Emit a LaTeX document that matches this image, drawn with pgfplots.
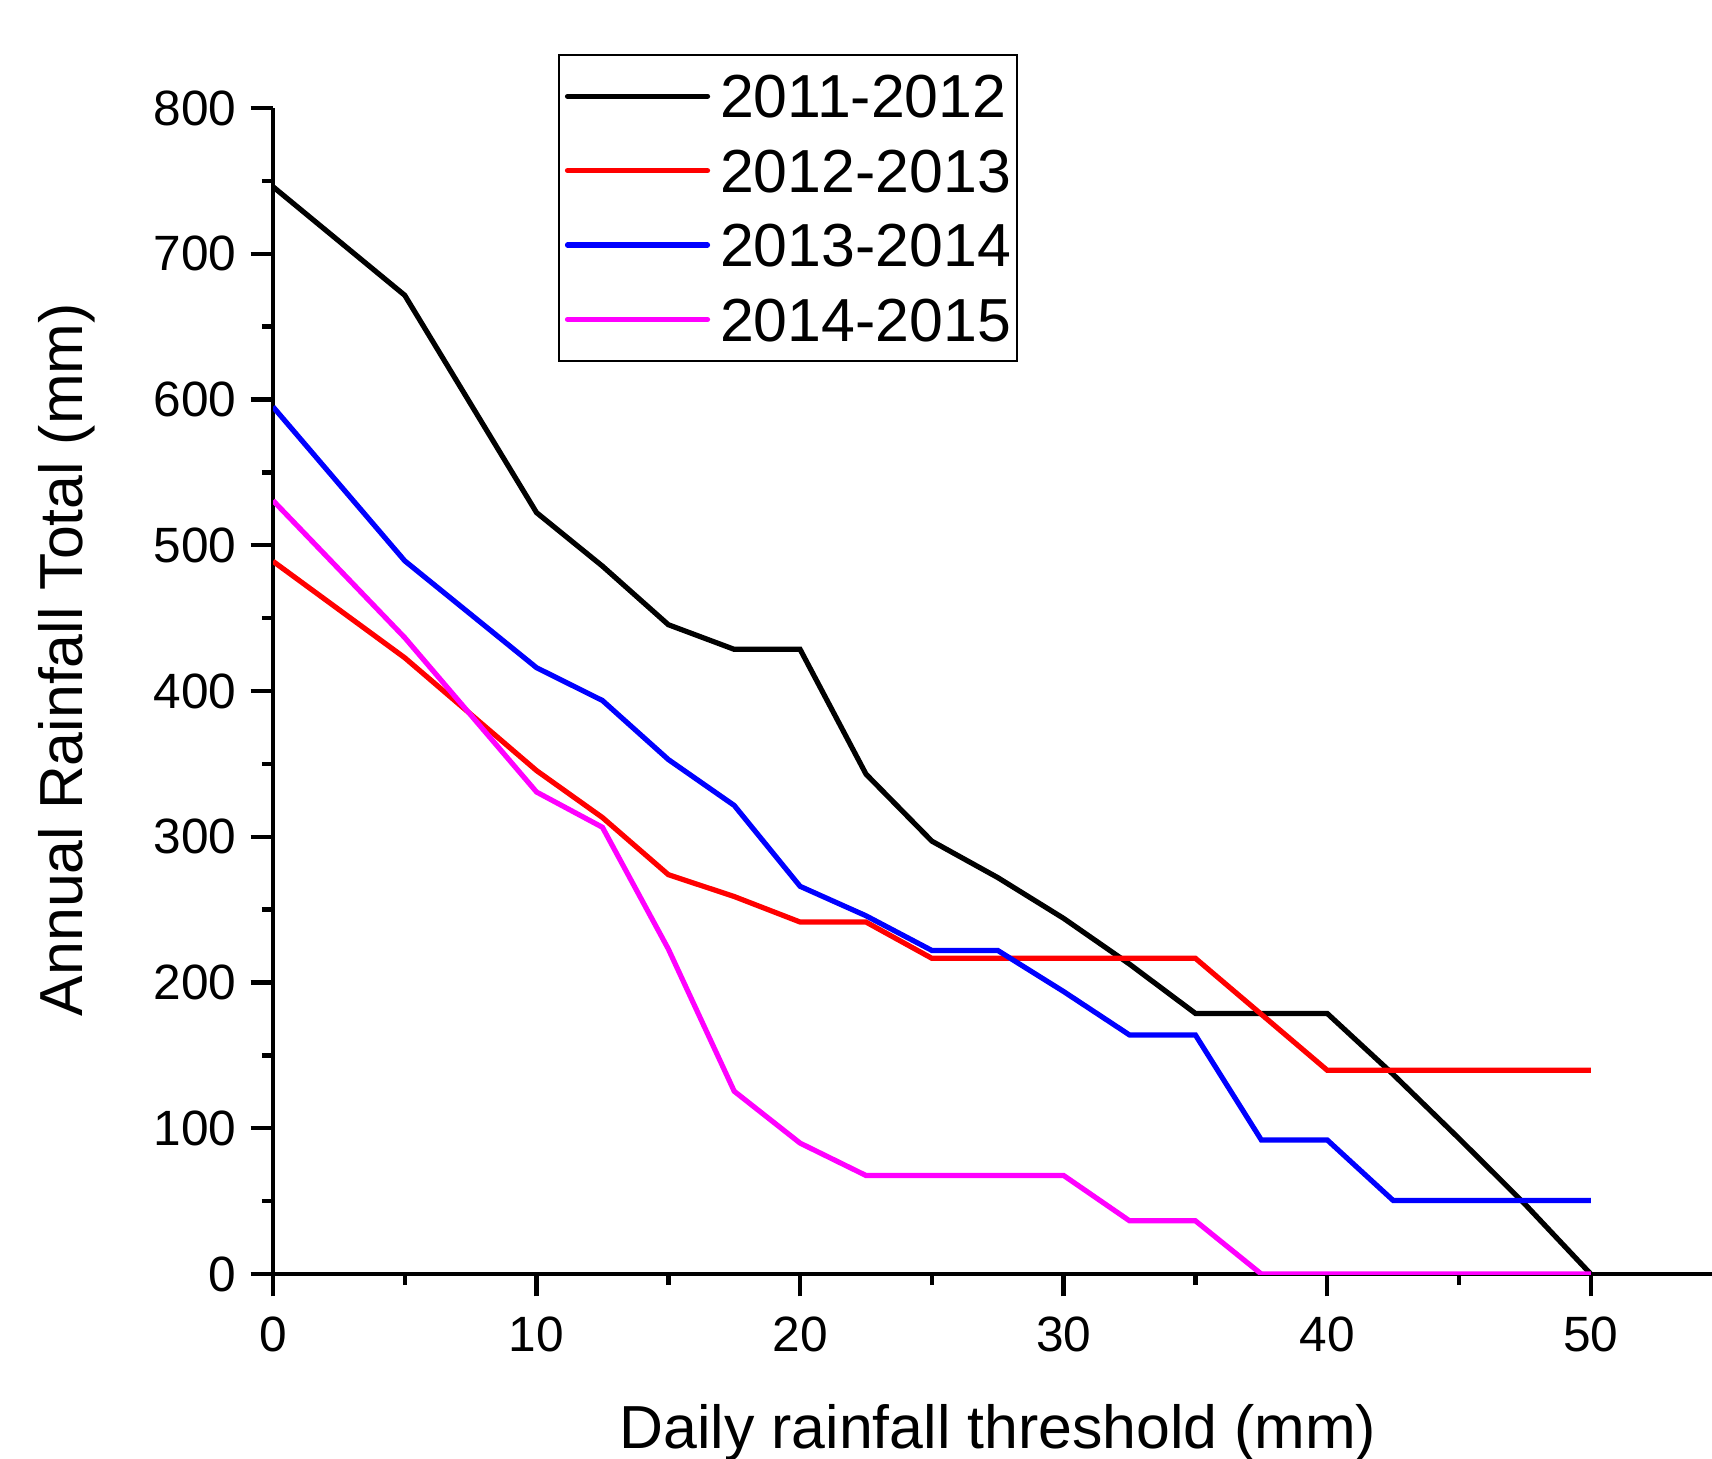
\documentclass[border=0pt]{standalone}
\usepackage{fontspec}
\setmainfont{Liberation Sans}
\usepackage{pgfplots}
\pgfplotsset{compat=1.18}
\definecolor{mag}{RGB}{255,0,255}
\definecolor{rd}{RGB}{255,0,0}
\definecolor{bl}{RGB}{0,0,255}

\begin{document}
\begin{tikzpicture}
\begin{axis}[
  name=ax,
  at={(0,0)}, anchor=south west,
  scale only axis,
  width=359.75pt, height=291.5pt,
  xmin=0, xmax=54.6, ymin=0, ymax=800,
  axis x line*=bottom, axis y line*=left,
  axis line style={line width=1.1pt, -},
  xtick={0,10,...,50}, ytick={0,100,...,800},
  minor tick num=1,
  tick align=outside,
  major tick length=5.6pt, minor tick length=2.8pt,
  every tick/.style={black, line width=1.1pt},
  /pgf/number format/assume math mode=true,
  tick label style={font=\fontsize{12.4}{14}\selectfont},
  xticklabel style={yshift=-1.6pt},
  xlabel={Daily rainfall threshold (mm)},
  ylabel={Annual Rainfall Total (mm)},
  label style={font=\fontsize{15.2}{18}\selectfont},
  xlabel style={at={(axis description cs:0.5038,0)}, anchor=north, inner sep=0pt, yshift=-32.5pt},
  ylabel style={at={(axis description cs:-0.1633,0.527)}, anchor=north, inner sep=0pt},
  legend style={at={(rel axis cs:0.198,1.0467)}, anchor=north west,
    draw=black, line width=0.5pt, font=\fontsize{15.2}{18}\selectfont,
    inner xsep=1.5pt, inner ysep=5pt, row sep=7.75pt,
    nodes={inner sep=0pt, text height=10.85pt, text depth=0pt}},
  legend cell align=left,
  legend image code/.code={\draw[#1, line cap=round] (0pt,0pt) -- (35pt,0pt); \path (37.5pt,0pt);},
  every axis plot/.append style={line width=1.3pt, line join=miter, mark=none},
]
\addplot[black] coordinates {
(0,746) (5,671.5) (10,522.4) (12.5,485.7) (15,445.5) (17.5,428.6) (20,428.6)
(22.5,343) (25,297) (27.5,272) (30,244) (32.5,212.6) (35,178.8) (37.5,178.8)
(40,178.8) (42.5,137) (45,93) (47.5,48) (50,0)
};
\addlegendentry{2011-2012\hspace{3.4pt}}
\addplot[rd] coordinates {
(0,489) (5,422.8) (10,345.4) (12.5,313.2) (15,274) (17.5,259) (20,241.5)
(22.5,241.5) (25,216.6) (27.5,216.6) (30,216.6) (32.5,216.6) (35,216.6)
(37.5,178.2) (40,139.8) (42.5,139.8) (45,139.8) (47.5,139.8) (50,139.8)
};
\addlegendentry{2012-2013\hspace{3.4pt}}
\addplot[bl] coordinates {
(0,595) (5,489.3) (10,416) (12.5,393.5) (15,353) (17.5,321.5) (20,266)
(22.5,245.8) (25,222) (27.5,222) (30,193.8) (32.5,164) (35,164) (37.5,92)
(40,92) (42.5,50.5) (45,50.5) (47.5,50.5) (50,50.5)
};
\addlegendentry{2013-2014\hspace{3.4pt}}
\addplot[mag] coordinates {
(0,530.7) (5,436.6) (10,330.7) (12.5,306.5) (15,223) (17.5,125.4) (20,89.8)
(22.5,67.6) (25,67.6) (27.5,67.6) (30,67.6) (32.5,36.5) (35,36.5) (37.5,0)
(40,0) (42.5,0) (45,0) (47.5,0) (50,0)
};
\addlegendentry{2014-2015\hspace{3.4pt}}
\end{axis}
\pgfresetboundingbox
\useasboundingbox (-68.25pt,-46pt) rectangle (359.75pt,318.5pt);
\end{tikzpicture}
\end{document}
